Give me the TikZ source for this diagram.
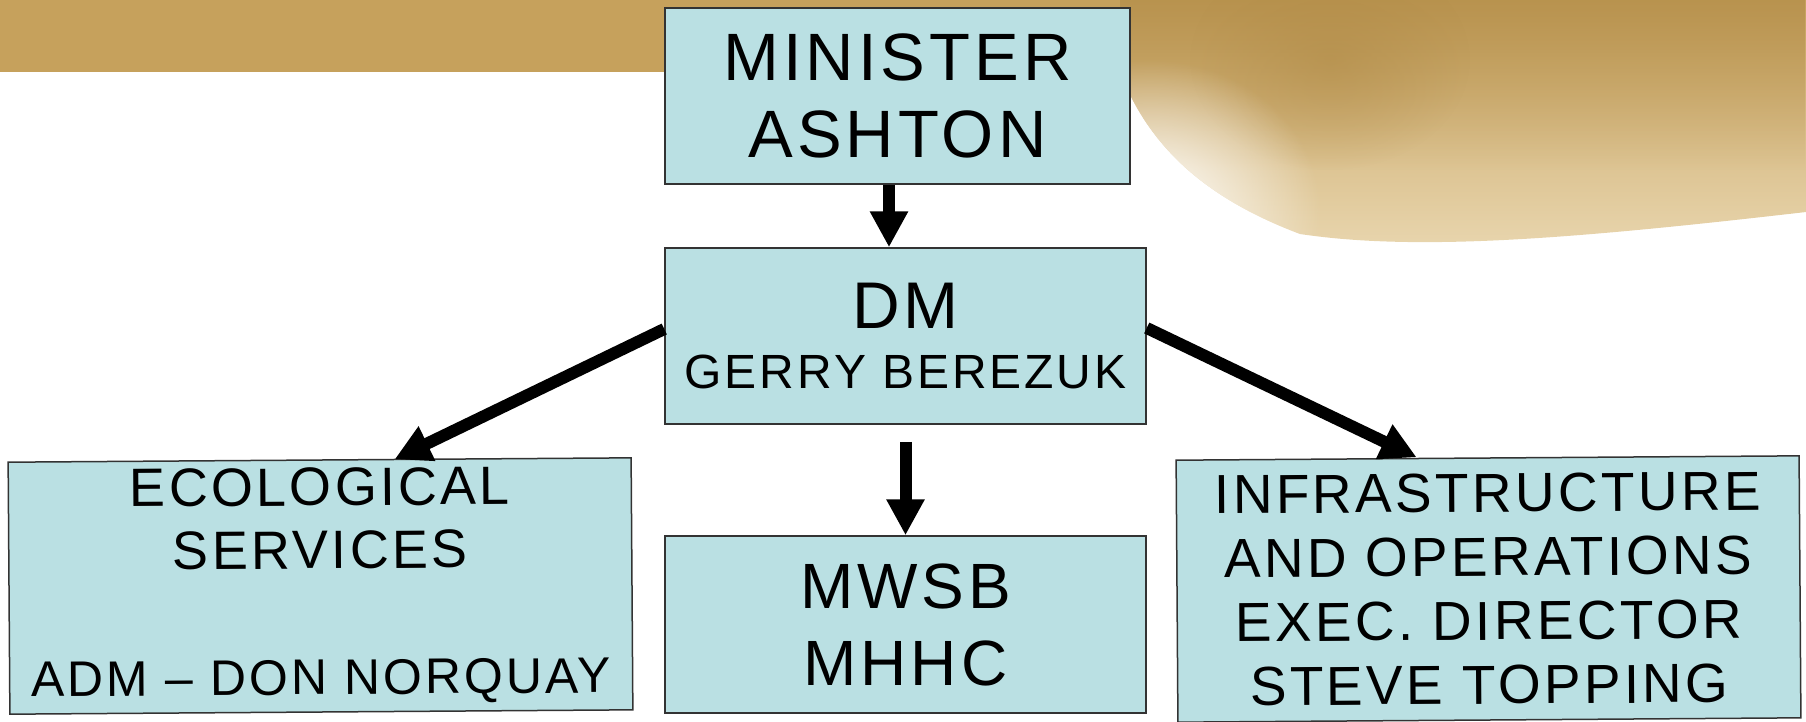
\documentclass[tikz,border=0pt]{standalone}
\usepackage{fontspec}
\setmainfont{Liberation Sans}[LetterSpace=6]
\usetikzlibrary{arrows.meta}
\usetikzlibrary{fadings}

\definecolor{boxfill}{RGB}{186,224,227}
\definecolor{gold}{RGB}{198,161,92}
\definecolor{golddark}{RGB}{176,138,70}
\definecolor{goldpale}{RGB}{234,216,178}

\tikzfading[name=softspot, inner color=transparent!0, outer color=transparent!100]

\tikzset{
  orgbox/.style={draw=black!80, line width=1.5pt, fill=boxfill, inner sep=0pt, align=center},
  arr/.style={line width=12pt, -{Triangle[width=36pt,length=36pt]}}
}

\begin{document}
\begin{tikzpicture}[x=1pt,y=-1pt]
      \useasboundingbox (0,0) rectangle (1806,721);

      % watercolour backdrop
      \fill[gold] (0,0) rectangle (1140,72);
      \begin{scope}
        \clip (1120,0) -- (1120,72)
          .. controls (1150,150) and (1210,200) .. (1300,234)
          .. controls (1420,252) and (1580,238) .. (1806,212) -- (1806,0) -- cycle;
        \shade[top color=gold, bottom color=goldpale] (1120,0) rectangle (1806,260);
        \fill[golddark, opacity=.6, path fading=south] (1120,0) rectangle (1806,170);
        \fill[golddark, opacity=.5, path fading=softspot] (1330,60) ellipse (140 and 110);
        \fill[white, path fading=softspot] (1150,210) ellipse (170 and 150);
      \end{scope}

      \node[orgbox, minimum width=465pt, minimum height=176pt, font=\fontsize{67}{77}\selectfont] (minister) at (897.5,96) {MINISTER\\ASHTON};
      \node[orgbox, minimum width=481pt, minimum height=176pt, font=\fontsize{48}{60}\selectfont] (dm) at (905.5,336) {{\fontsize{66}{60}\selectfont DM}\\GERRY BEREZUK};
      \node[orgbox, minimum width=481pt, minimum height=177pt, font=\fontsize{64}{77}\selectfont] (mwsb) at (905.5,624.5) {MWSB\\MHHC};
      \node[orgbox, rotate=0.4, minimum width=623pt, minimum height=252pt, font=\fontsize{54}{63}\selectfont] (eco) at (320.5,586) {ECOLOGICAL\\SERVICES\\\mbox{}\\{\fontsize{50}{63}\selectfont ADM -- DON NORQUAY}};
      \node[orgbox, rotate=0.4, minimum width=623pt, minimum height=262pt, font=\fontsize{55}{64}\selectfont] (infra) at (1488.5,589) {INFRASTRUCTURE\\AND OPERATIONS\\EXEC. DIRECTOR\\STEVE TOPPING};

      \draw[arr] ([xshift=-8.5pt]minister.south) -- ([xshift=-16.5pt]dm.north);
      \draw[arr] ([yshift=-17pt]dm.south) -- (mwsb.north);
      \draw[arr] ([yshift=7pt]dm.west) -- ([xshift=75pt]eco.north);
      \draw[arr] ([yshift=8pt]dm.east) -- ([xshift=-71pt]infra.north);
\end{tikzpicture}
\end{document}
